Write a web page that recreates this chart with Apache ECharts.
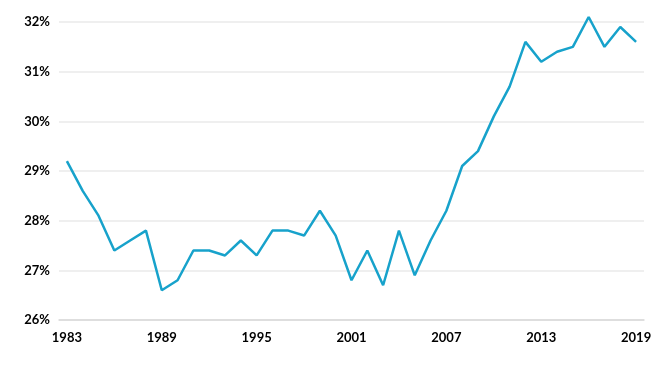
<!DOCTYPE html>
<html><head><meta charset="utf-8">
<script src="https://cdn.jsdelivr.net/npm/echarts@6/dist/echarts.min.js"></script>
<style>html,body{margin:0;padding:0;background:#fff}#c{width:670px;height:365px}</style>
</head><body><div id="c"></div>
<script>
const years = [];
for (let y = 1983; y <= 2019; y++) years.push(String(y));
const values = [29.2, 28.6, 28.1, 27.4, 27.6, 27.8, 26.6, 26.8, 27.4, 27.4, 27.3, 27.6, 27.3, 27.8, 27.8, 27.7, 28.2, 27.7, 26.8, 27.4, 26.7, 27.8, 26.9, 27.6, 28.2, 29.1, 29.4, 30.1, 30.7, 31.6, 31.2, 31.4, 31.5, 32.1, 31.5, 31.9, 31.6];
const yMin = 26, yMax = 32, yStep = 1;

const chart = echarts.init(document.getElementById('c'), null, {renderer: 'canvas'});
chart.setOption({
  animation: false,
  grid: {left: 59, right: 26, top: 22, bottom: 45},
  xAxis: {
    type: 'category',
    data: years,
    boundaryGap: true,
    axisLine: {show: true, lineStyle: {color: '#d9d9d9', width: 1.5}},
    axisTick: {show: false},
    axisLabel: {interval: 5, color: '#000', fontWeight: 'bold', fontSize: 13, fontFamily: 'Lato', margin: 11}
  },
  yAxis: {
    type: 'value',
    min: yMin, max: yMax, interval: yStep,
    axisLine: {show: false},
    axisTick: {show: false},
    splitLine: {lineStyle: {color: '#eaeaea', width: 1.5}},
    axisLabel: {formatter: v => v + '%', color: '#000', fontWeight: 'bold', fontSize: 13, fontFamily: 'Lato', margin: 9}
  },
  series: [{
    type: 'line',
    data: values,
    clip: false,
    symbol: 'none',
    lineStyle: {color: '#17a2cb', width: 2.5},
    itemStyle: {color: '#17a2cb'}
  }]
});
</script></body></html>
